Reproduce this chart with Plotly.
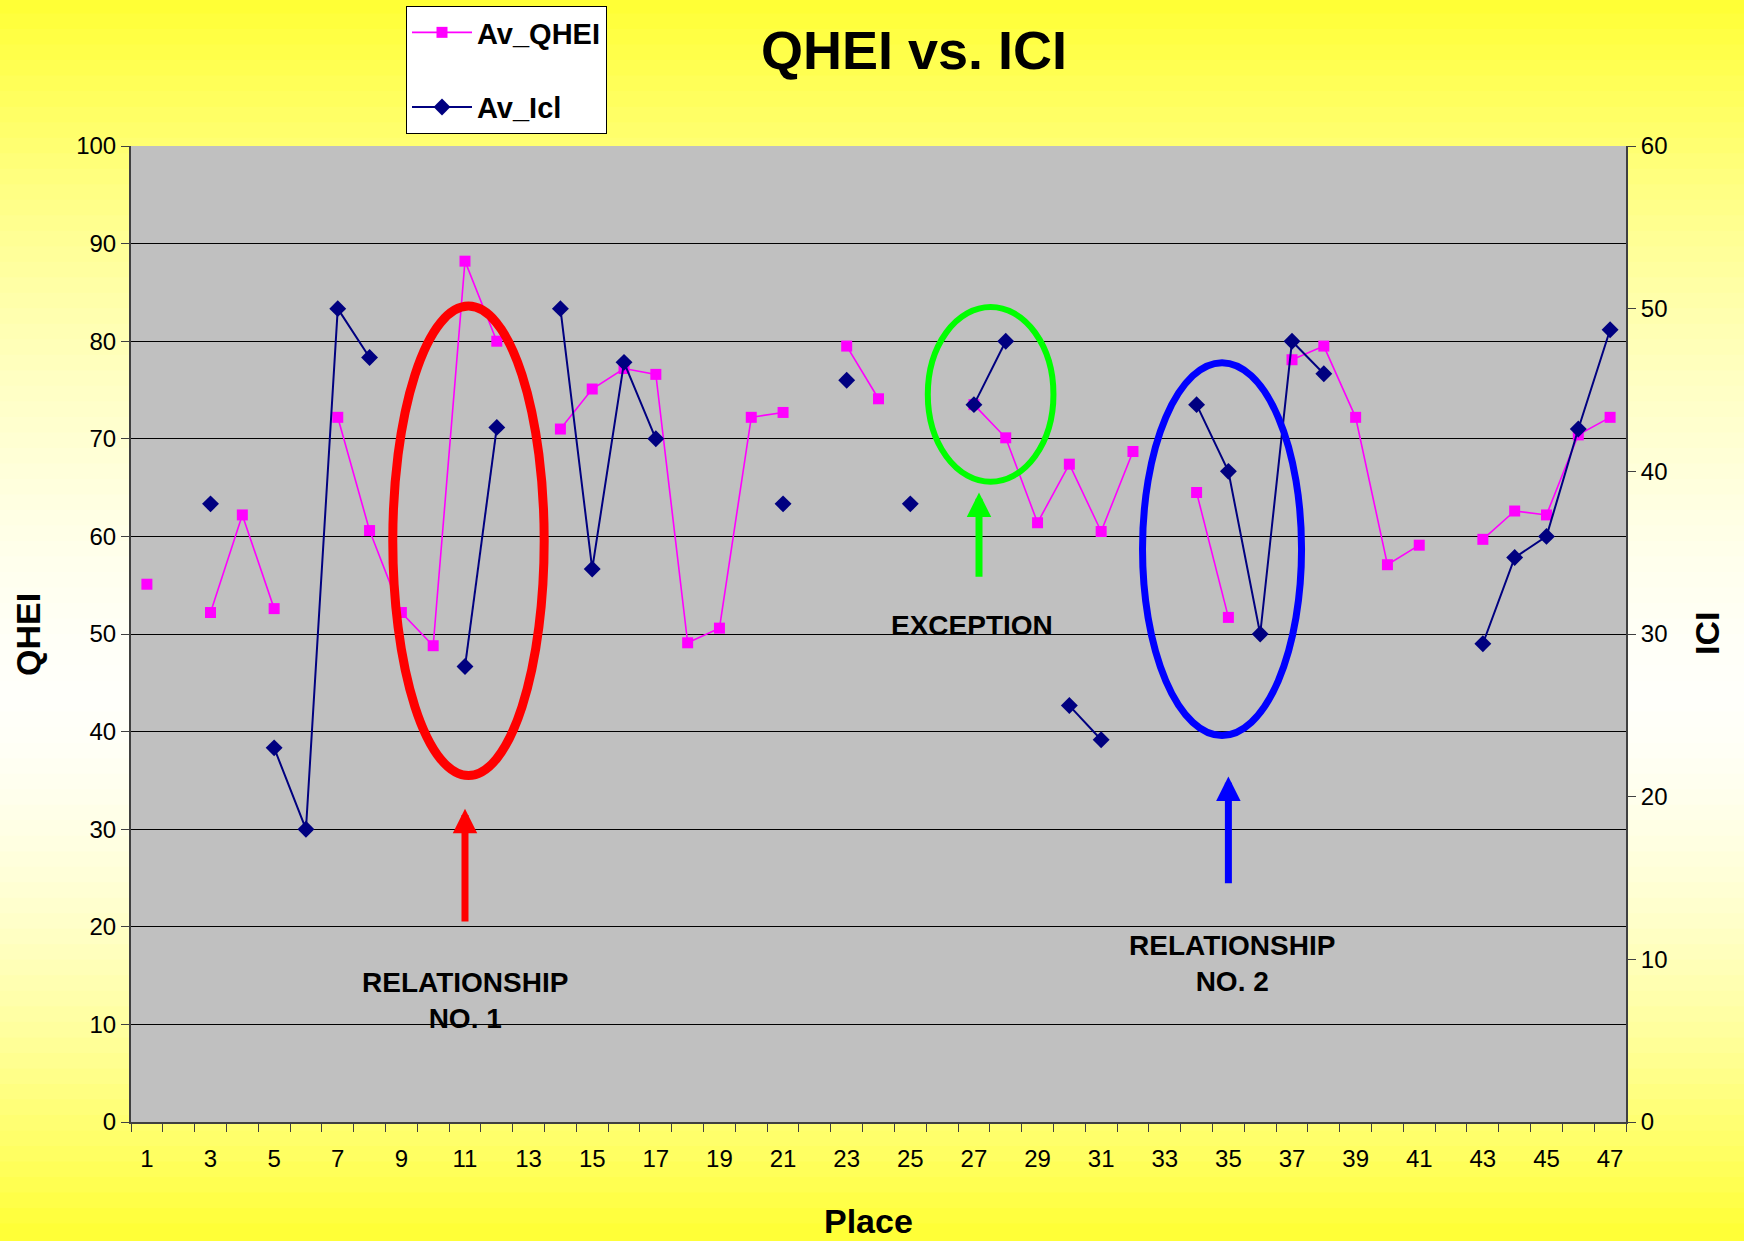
import plotly.graph_objects as go

places = list(range(1, 48))
av_qhei = [55.1, None, 52.2, 62.2, 52.6, None, 72.2, 60.6, 52.2, 48.8,
           88.2, 80.0, None, 71.0, 75.1, 77.2, 76.6, 49.1, 50.6, 72.2,
           72.7, None, 79.5, 74.1, None, None, 73.5, 70.1, 61.4, 67.4,
           60.5, 68.7, None, 64.5, 51.7, None, 78.1, 79.5, 72.2, 57.1,
           59.1, None, 59.7, 62.6, 62.2, 70.4, 72.2]
av_ici = [None, None, 38, None, 23, 18, 50, 47, None, None,
          28, 42.7, None, 50, 34, 46.7, 42, None, None, None,
          38, None, 45.6, None, 38, None, 44.1, 48, None, 25.6,
          23.5, None, None, 44.1, 40, 30, 48, 46, None, None,
          None, None, 29.4, 34.7, 36, 42.6, 48.7]
x_ticks = list(range(1, 48, 2))

FONT = "Arial, Liberation Sans, sans-serif"
W, H = 1744, 1241
ML, MR, MT, MB = 131, 118, 146, 119
PW, PH = W - ML - MR, H - MT - MB

fig = go.Figure()
fig.add_trace(go.Scatter(x=places, y=av_qhei, name="Av_QHEI", mode="lines+markers",
                         line=dict(color="#FF00FF", width=1.6),
                         marker=dict(symbol="square", size=11, color="#FF00FF"),
                         connectgaps=False, legendgroup="a", yaxis="y"))
fig.add_trace(go.Scatter(x=places, y=av_ici, name="Av_Icl", mode="lines+markers",
                         line=dict(color="#000080", width=2),
                         marker=dict(symbol="diamond", size=13, color="#000080"),
                         connectgaps=False, legendgroup="b", yaxis="y2"))

shapes = []
# vertical yellow gradient background
N = 80
def ycol(t):
    d = (0.56 - t) / 0.56 if t < 0.56 else (t - 0.56) / 0.44
    b = int(round(250 - (250 - 50) * d ** 1.6))
    return f"rgb(255,255,{b})"
for i in range(N):
    t0 = i / N
    t1 = (i + 1) / N
    y_top = (H - MB - H * t0) / PH
    y_bot = (H - MB - H * t1) / PH
    shapes.append(dict(type="rect", xref="paper", yref="paper",
                       x0=-0.2, x1=1.2,
                       y0=y_bot - 0.002 - (0.1 if i == N - 1 else 0),
                       y1=y_top + 0.002 + (0.1 if i == 0 else 0),
                       line=dict(width=0),
                       fillcolor=ycol((t0 + t1) / 2), layer="below"))
shapes.append(dict(type="rect", xref="paper", yref="paper", x0=0, x1=1, y0=0, y1=1,
                   line=dict(width=0), fillcolor="#C0C0C0", layer="below"))
# ellipses
shapes.append(dict(type="circle", xref="x", yref="y", x0=8.73, x1=13.49, y0=35.5, y1=83.6,
                   line=dict(color="#FF0000", width=9)))
shapes.append(dict(type="circle", xref="x", yref="y", x0=25.55, x1=29.5, y0=65.6, y1=83.5,
                   line=dict(color="#00FF00", width=6)))
shapes.append(dict(type="circle", xref="x", yref="y", x0=32.3, x1=37.3, y0=39.6, y1=77.8,
                   line=dict(color="#0000FF", width=7)))

annotations = [
    dict(text="QHEI vs. ICI", xref="paper", yref="paper", x=(914 - ML) / PW, y=(H - MB - 50) / PH,
         showarrow=False, font=dict(family=FONT, size=54, color="black", weight="bold"),
         xanchor="center", yanchor="middle"),
    dict(text="QHEI", xref="paper", yref="paper", x=(28 - ML) / PW, y=0.5, textangle=-90,
         showarrow=False, font=dict(family=FONT, size=34, color="black", weight="bold"),
         xanchor="center", yanchor="middle"),
    dict(text="ICI", xref="paper", yref="paper", x=(1707 - ML) / PW, y=0.5, textangle=-90,
         showarrow=False, font=dict(family=FONT, size=34, color="black", weight="bold"),
         xanchor="center", yanchor="middle"),
    dict(text="Place", xref="paper", yref="paper", x=(868 - ML) / PW, y=-(1221 - (H - MB)) / PH,
         showarrow=False, font=dict(family=FONT, size=34, color="black", weight="bold"),
         xanchor="center", yanchor="middle"),
    dict(text="RELATIONSHIP<br>NO. 1", x=11, y=12.4, xref="x", yref="y", showarrow=False,
         font=dict(family=FONT, size=28, color="black", weight="bold"), align="center"),
    dict(text="EXCEPTION", x=26.95, y=50.9, xref="x", yref="y", showarrow=False,
         font=dict(family=FONT, size=28, color="black", weight="bold")),
    dict(text="RELATIONSHIP<br>NO. 2", x=35.1, y=16.2, xref="x", yref="y", showarrow=False,
         font=dict(family=FONT, size=28, color="black", weight="bold"), align="center"),
]
for (xa, ytip, ytail, col) in [(11, 32.1, 20.4, "#FF0000"), (27.16, 64.5, 55.7, "#00FF00"),
                               (35.0, 35.4, 24.3, "#0000FF")]:
    annotations.append(dict(x=xa, y=ytip, ax=xa, ay=ytail, xref="x", yref="y", axref="x", ayref="y",
                            text="", showarrow=True, arrowhead=2, arrowsize=0.7, arrowwidth=7,
                            arrowcolor=col, standoff=0))

fig.update_layout(
    width=W, height=H,
    margin=dict(l=ML, r=MR, t=MT, b=MB, autoexpand=False),
    paper_bgcolor="#FFFF80", plot_bgcolor="#C0C0C0",
    shapes=shapes, annotations=annotations,
    showlegend=True,
    legend=dict(x=(406 - ML) / PW, y=(H - MB - 6) / PH, xanchor="left", yanchor="top",
                bgcolor="white", bordercolor="black", borderwidth=1,
                font=dict(family=FONT, size=29, color="black", weight="bold"),
                tracegroupgap=34, itemwidth=60),
    xaxis=dict(range=[0.5, 47.5], tickmode="array", tickvals=x_ticks, ticks="",
               tickfont=dict(family=FONT, size=24, color="black"), ticklabelstandoff=14,
               showgrid=False, zeroline=False, showline=True, linecolor="#404040", linewidth=2,
               mirror=False,
               minor=dict(tick0=0.5, dtick=1, ticks="outside", ticklen=8, tickcolor="#404040",
                          showgrid=False)),
    yaxis=dict(range=[0, 100], dtick=10, ticks="outside", ticklen=8, tickcolor="#404040",
               tickfont=dict(family=FONT, size=24, color="black"),
               showgrid=True, gridcolor="black", gridwidth=1, zeroline=False,
               showline=True, linecolor="#404040", linewidth=2),
    yaxis2=dict(range=[0, 60], dtick=10, ticks="outside", ticklen=8, tickcolor="#404040",
                tickfont=dict(family=FONT, size=24, color="black"),
                overlaying="y", side="right", showgrid=False, zeroline=False,
                showline=True, linecolor="#404040", linewidth=2),
)

fig.write_html("out.html", config={"displayModeBar": False},
               post_script="document.body.style.margin='0';document.body.style.overflow='hidden';")
